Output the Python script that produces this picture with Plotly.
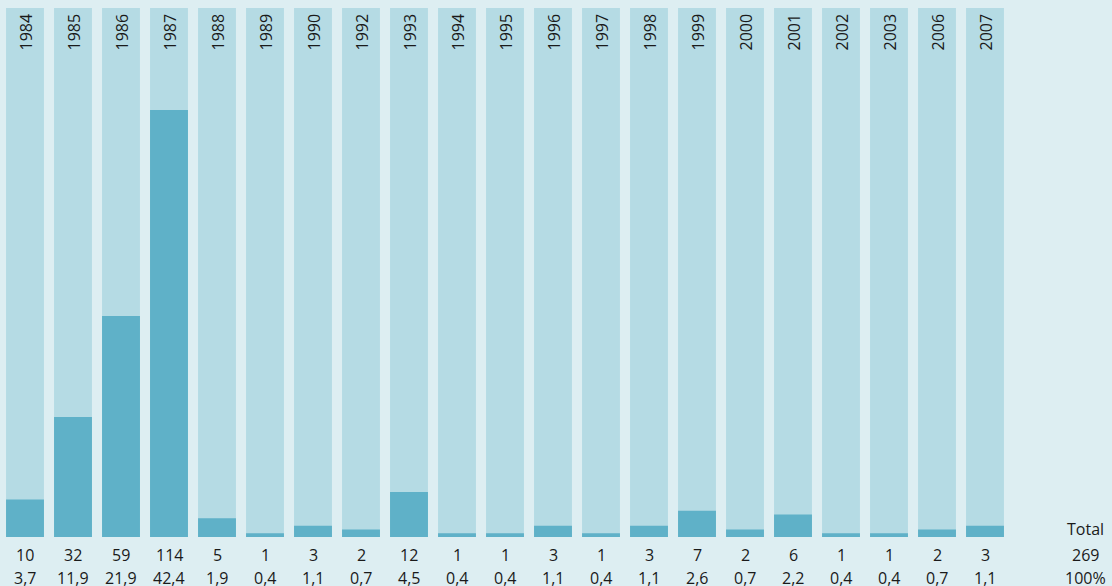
import plotly.graph_objects as go

years = ["1984", "1985", "1986", "1987", "1988", "1989", "1990", "1992", "1993", "1994",
         "1995", "1996", "1997", "1998", "1999", "2000", "2001", "2002", "2003", "2006", "2007"]
counts = [10, 32, 59, 114, 5, 1, 3, 2, 12, 1, 1, 3, 1, 3, 7, 2, 6, 1, 1, 2, 3]
percents = ["3,7", "11,9", "21,9", "42,4", "1,9", "0,4", "1,1", "0,7", "4,5", "0,4",
            "0,4", "1,1", "0,4", "1,1", "2,6", "0,7", "2,2", "0,4", "0,4", "0,7", "1,1"]
total_label = "Total"
total_count = "269"
total_percent = "100%"

TRACK = 141.2  # height of the light background bar in value units
BG = "#DDEEF2"
LIGHT = "#B5DBE4"
DARK = "#5FB1C8"
FONT = "Open Sans"
TXT = "#1a1a1a"

x = list(range(len(years)))

fig = go.Figure()
fig.add_trace(go.Bar(x=x, y=[TRACK] * len(x), marker=dict(color=LIGHT, line=dict(width=0)),
                     width=0.79, hoverinfo="skip", showlegend=False))
fig.add_trace(go.Bar(x=x, y=counts, marker=dict(color=DARK, line=dict(width=0)),
                     width=0.79, showlegend=False))

ann = []
for i, yr in enumerate(years):
    ann.append(dict(x=i, y=1, xref="x", yref="paper", text=yr, textangle=-90,
                    showarrow=False, xanchor="center", yanchor="top", yshift=-4,
                    font=dict(family=FONT, size=16, color=TXT)))
    ann.append(dict(x=i, y=0, xref="x", yref="paper", text=str(counts[i]),
                    showarrow=False, xanchor="center", yanchor="middle", yshift=-18,
                    font=dict(family=FONT, size=16, color=TXT)))
    ann.append(dict(x=i, y=0, xref="x", yref="paper", text=percents[i],
                    showarrow=False, xanchor="center", yanchor="middle", yshift=-41,
                    font=dict(family=FONT, size=16, color=TXT)))

# "Total" column sits to the right of the plot area (paper coords beyond 1)
total_x = 1 + (1085 - 1009) / 1008
for txt, ys in [(total_label, 8), (total_count, -18), (total_percent, -41)]:
    ann.append(dict(x=total_x, y=0, xref="paper", yref="paper", text=txt,
                    showarrow=False, xanchor="center", yanchor="middle", yshift=ys,
                    font=dict(family=FONT, size=16, color=TXT)))

fig.update_layout(
    width=1112, height=586,
    margin=dict(l=1, r=103, t=8, b=49),
    paper_bgcolor=BG, plot_bgcolor=BG,
    barmode="overlay",
    xaxis=dict(range=[-0.5, 20.5], visible=False, fixedrange=True),
    yaxis=dict(range=[0, TRACK], visible=False, fixedrange=True),
    annotations=ann,
)

fig.write_html("out.html", config={"displayModeBar": False},
               post_script="document.body.style.margin='0';document.body.style.overflow='hidden';")
